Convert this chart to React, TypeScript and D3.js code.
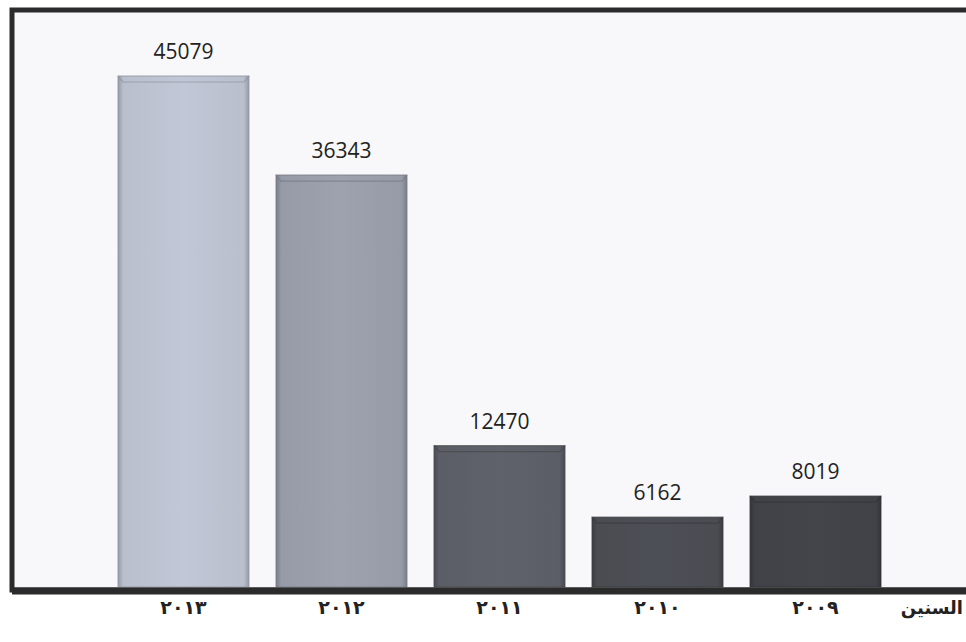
import React from "react";
import * as d3 from "d3";

const years = ["٢٠١٣", "٢٠١٢", "٢٠١١", "٢٠١٠", "٢٠٠٩"];
const values = [45079, 36343, 12470, 6162, 8019];
const barColors = ["#b9bfcd", "#979ba8", "#5b5e66", "#4a4c52", "#404247"];
const axisTitle = "السنين";

const W = 966;
const H = 642;

export default function App() {
  const frame = { left: 12, top: 10, right: 975, bottom: 590 };
  const baseline = 587;
  const x = d3.scaleBand<string>().domain(years).range([118, 881]).paddingInner(0.171).paddingOuter(0);
  const y = d3.scaleLinear().domain([0, 45079]).range([baseline, 76]);
  const bw = x.bandwidth();

  return (
    <svg width={W} height={H} style={{ position: "absolute", left: 0, top: 0, background: "#ffffff" }}>
      <defs>
        {barColors.map((c, i) => {
          const dark = d3.color(c)!.darker(0.6).formatHex();
          const light = d3.color(c)!.brighter(0.12).formatHex();
          return (
            <linearGradient key={i} id={`g${i}`} x1="0" x2="1" y1="0" y2="0">
              <stop offset="0" stopColor={dark} />
              <stop offset="0.04" stopColor={c} />
              <stop offset="0.5" stopColor={light} />
              <stop offset="0.96" stopColor={c} />
              <stop offset="1" stopColor={dark} />
            </linearGradient>
          );
        })}
      </defs>
      <rect x={frame.left} y={frame.top} width={frame.right - frame.left} height={frame.bottom - frame.top} fill="#f8f8fa" stroke="#2b2b2b" strokeWidth={5} />
      {values.map((v, i) => {
        const x0 = x(years[i])!;
        const yt = y(v);
        const c = barColors[i];
        const dark = d3.color(c)!.darker(0.7).formatHex();
        return (
          <g key={i}>
            <rect x={x0} y={yt} width={bw} height={baseline - yt} fill={`url(#g${i})`} />
            <path d={`M${x0},${yt} L${x0 + 5},${yt + 6} L${x0 + bw - 5},${yt + 6} L${x0 + bw},${yt}`} fill="none" stroke={dark} strokeWidth={1.2} opacity={0.7} />
            <rect x={x0} y={yt} width={bw} height={baseline - yt} fill="none" stroke={dark} strokeWidth={1.2} opacity={0.7} />
            <text x={x0 + bw / 2} y={yt - 17} textAnchor="middle" fontFamily="'Open Sans', 'DejaVu Sans', sans-serif" fontSize={21} fill="#222">
              {v}
            </text>
          </g>
        );
      })}
      <line x1={frame.left} x2={W} y1={frame.bottom + 1} y2={frame.bottom + 1} stroke="#2b2b2b" strokeWidth={7} />
      {years.map((yr) => (
        <text key={yr} x={x(yr)! + bw / 2} y={614} textAnchor="middle" fontFamily="'DejaVu Serif', 'DejaVu Sans', serif" fontWeight="bold" fontSize={19} letterSpacing={4} fill="#222" direction="ltr">
          {yr}
        </text>
      ))}
      <text x={963} y={614} textAnchor="end" fontFamily="'DejaVu Sans', serif" fontWeight="bold" fontSize={18} fill="#222">
        {axisTitle}
      </text>
    </svg>
  );
}
